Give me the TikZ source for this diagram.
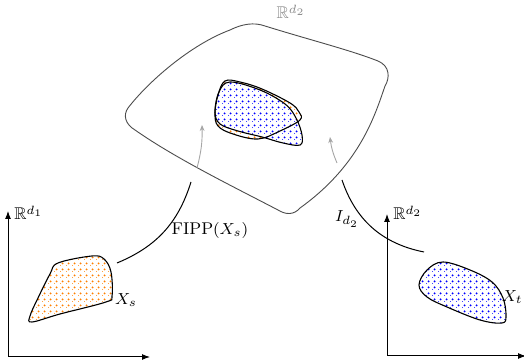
\documentclass[tikz,border=0pt]{standalone}
\usepackage{amssymb}
\usetikzlibrary{patterns,arrows.meta}
\pgfdeclarepatternformonly{bigdots}{\pgfpointorigin}{\pgfqpoint{3pt}{3pt}}{\pgfqpoint{3pt}{3pt}}{%
  \pgfpathcircle{\pgfqpoint{0pt}{0pt}}{.6pt}%
  \pgfpathcircle{\pgfqpoint{1.5pt}{1.5pt}}{.6pt}%
  \pgfusepath{fill}}
\begin{document}
\begin{tikzpicture}[x=0.5pt,y=-0.5pt,
  lbl/.style={font=\fontsize{8.5}{10}\selectfont, inner sep=1pt},
  blobline/.style={draw=black, line width=0.55pt},
  axis/.style={draw=black, line width=0.5pt, -{Latex[length=4pt,width=3pt]}},
  maparc/.style={draw=black, line width=0.5pt},
  grayarr/.style={draw=black!35, line width=0.45pt, -{Stealth[length=3pt,width=2.4pt]}}]
\useasboundingbox (0,0) rectangle (524,362);

% big space R^{d2}
\draw[black!70, line width=0.45pt]
  (128,108) .. controls (148,82) and (190,45) .. (230,30)
  .. controls (242,24) and (254,22) .. (265,26)
  .. controls (310,40) and (350,50) .. (378,61)
  .. controls (390,66) and (390,78) .. (385,86)
  .. controls (375,115) and (360,165) .. (300,208)
  .. controls (294,215) and (286,215) .. (278,210)
  .. controls (230,185) and (175,158) .. (135,130)
  .. controls (125,124) and (123,115) .. (128,108) -- cycle;
\node[lbl, text=black!45] (Rtop) at (291,12) {$\mathbb{R}^{d_2}$};

% embedded sets
\path[pattern=bigdots, pattern color=orange]
  plot[smooth cycle, tension=0.6] coordinates {(225,81) (240,82) (262,89) (290,103) (299,112) (300,120) (280,131) (258,139) (233,134) (218,126) (215,113) (218,95)};
\draw[blobline, preaction={fill=white}, pattern=bigdots, pattern color=blue]
  plot[smooth cycle, tension=0.6] coordinates {(230,82) (260,90) (285,104) (296,118) (302,135) (300,145) (283,143) (262,137) (238,131) (220,124) (215,112) (219,92)};
\draw[blobline]
  plot[smooth cycle, tension=0.6] coordinates {(225,81) (240,82) (262,89) (290,103) (299,112) (300,120) (280,131) (258,139) (233,134) (218,126) (215,113) (218,95)};

% gray arrows
\coordinate (ga1) at (197,168);
\coordinate (gb1) at (202,125);
\coordinate (ga2) at (337,163);
\coordinate (gb2) at (330,137);
\draw[grayarr] (ga1) to[bend right=8] (gb1);
\draw[grayarr] (ga2) to[bend left=8] (gb2);

% left axes
\coordinate (O1) at (8,357);
\coordinate (Y1) at (8,211);
\coordinate (X1) at (150,357);
\draw[axis] (O1) -- (Y1);
\draw[axis] (O1) -- (X1);
\node[lbl, anchor=west] (R1) at (12,213) {$\mathbb{R}^{d_1}$};

\draw[blobline, pattern=bigdots, pattern color=orange]
  plot[smooth cycle, tension=0.6] coordinates {(58,263) (92,256) (104,259) (111,272) (112,296) (106,302) (60,314) (32,322) (30,316) (38,298) (50,274)};
\node[lbl] (Xs) at (126,300) {$X_s$};

% right axes
\coordinate (O2) at (387,356);
\coordinate (Y2) at (387,214);
\coordinate (X2) at (526,356);
\draw[axis] (O2) -- (Y2);
\draw[axis] (O2) -- (X2);
\node[lbl, anchor=west] (R2) at (391,213) {$\mathbb{R}^{d_2}$};

\draw[blobline, pattern=bigdots, pattern color=blue]
  plot[smooth cycle, tension=0.6] coordinates {(443,262) (470,270) (492,282) (503,298) (506,316) (502,323) (480,320) (447,307) (427,297) (419,285) (427,270)};
\node[lbl, anchor=east, inner sep=0pt] (Xt) at (523,297) {$X_t$};

% maps
\coordinate (a1) at (117,263);
\coordinate (b1) at (191,182);
\draw[maparc] (a1) to[bend right=25] (b1);
\node[lbl] (fipp) at (210,231) {FIPP$(X_s)$};

\coordinate (a2) at (342,180);
\coordinate (b2) at (424,252);
\draw[maparc] (a2) to[bend right=30] (b2);
\node[lbl] (Id) at (347,219) {$I_{d_2}$};
\end{tikzpicture}
\end{document}
